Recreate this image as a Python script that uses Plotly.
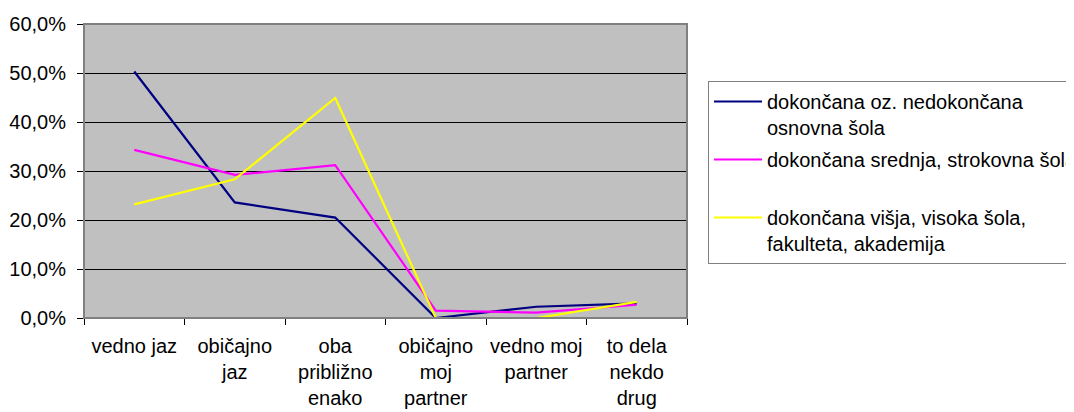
import plotly.graph_objects as go

categories = ["vedno jaz", "običajno jaz", "oba približno enako", "običajno moj partner", "vedno moj partner", "to dela nekdo drug"]
tick_labels = ["vedno jaz", "običajno<br>jaz", "oba<br>približno<br>enako", "običajno<br>moj<br>partner", "vedno moj<br>partner", "to dela<br>nekdo<br>drug"]

series_names = [
    "dokončana oz. nedokončana<br>osnovna šola",
    "dokončana srednja, strokovna šola<br> ",
    "dokončana višja, visoka šola,<br>fakulteta, akademija",
]
osnovna = [50.3, 23.6, 20.5, 0.0, 2.3, 3.0]
srednja = [34.3, 29.2, 31.2, 1.5, 1.1, 2.7]
visja = [23.2, 28.3, 44.9, 0.0, 0.0, 3.3]
colors = ["#000080", "#FF00FF", "#FFFF00"]

y_ticks = [0, 10, 20, 30, 40, 50, 60]
y_tick_labels = ["0,0%", "10,0%", "20,0%", "30,0%", "40,0%", "50,0%", "60,0%"]

FONT = "Liberation Sans, Arial, sans-serif"

# page body has an 8px default margin, compensate
OFF = 8

fig = go.Figure()
for i, (name, vals, col) in enumerate(zip(series_names, [osnovna, srednja, visja], colors)):
    fig.add_trace(go.Scatter(
        x=categories, y=vals, name=name, mode="lines",
        line=dict(color=col, width=2.2),
        legendgroup="g%d" % i,
    ))

W, H = 1074, 412
fig.update_layout(
    width=W, height=H,
    margin=dict(l=84 - OFF, r=W - (84 - OFF) - 603, t=24 - OFF, b=H - (24 - OFF) - 294, autoexpand=False),
    paper_bgcolor="white",
    plot_bgcolor="#C0C0C0",
    font=dict(family=FONT, size=20, color="black"),
    showlegend=True,
    legend=dict(
        xref="container", yref="container",
        x=(708 - OFF) / W, y=1 - (81 - OFF) / H,
        xanchor="left", yanchor="top",
        bgcolor="white",
        bordercolor="#808080", borderwidth=1,
        font=dict(family=FONT, size=20, color="black"),
        valign="top",
        itemwidth=48,
        traceorder="grouped",
        tracegroupgap=3,
    ),
)

fig.update_xaxes(
    type="category",
    range=[-0.5, 5.5],
    tickmode="array", tickvals=categories, ticktext=tick_labels,
    tickangle=0,
    tickson="boundaries",
    ticks="outside", ticklen=6, tickcolor="black", tickwidth=1,
    ticklabelstandoff=10,
    showline=True, linecolor="black", linewidth=1,
    showgrid=False, zeroline=False,
    automargin=False,
    tickfont=dict(family=FONT, size=20, color="black"),
)

fig.update_yaxes(
    range=[0, 60],
    tickmode="array", tickvals=y_ticks, ticktext=y_tick_labels,
    ticks="outside", ticklen=6, tickcolor="black", tickwidth=1,
    ticklabelstandoff=7,
    showgrid=True, gridcolor="black", gridwidth=1,
    zeroline=False,
    showline=False,
    automargin=False,
    tickfont=dict(family=FONT, size=20, color="black"),
)

fig.add_shape(type="rect", xref="paper", yref="paper", x0=0, y0=0, x1=1, y1=1,
              line=dict(color="#808080", width=2), fillcolor="rgba(0,0,0,0)", layer="above")

fig.write_html("out.html")
